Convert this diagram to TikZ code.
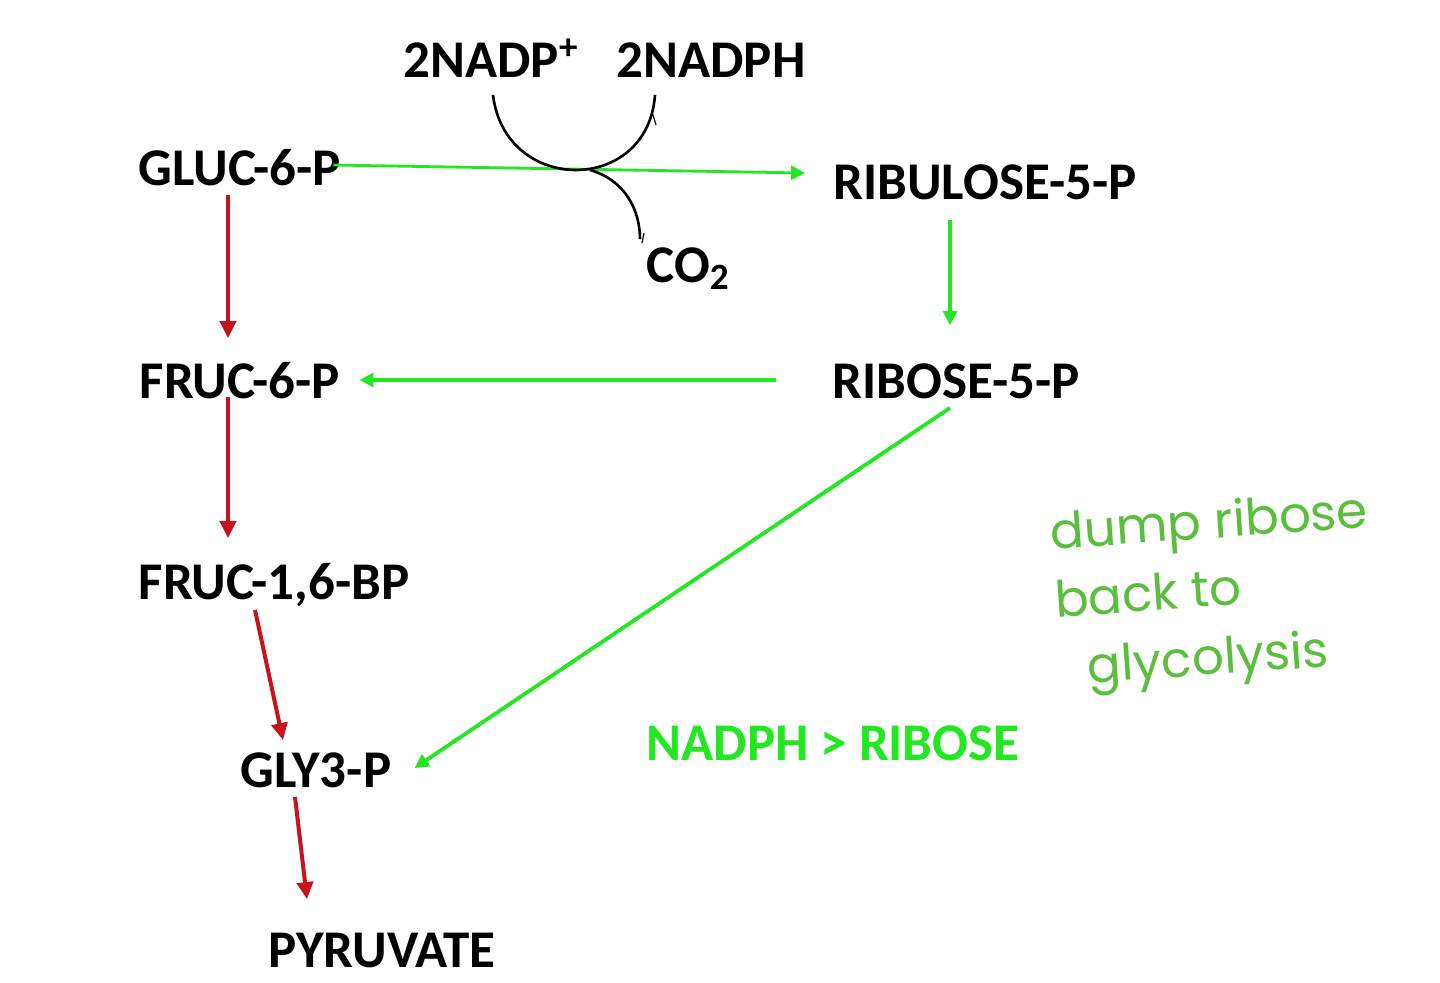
\documentclass[tikz,border=0pt]{standalone}
\usepackage{fontspec}
\setmainfont{Carlito}
\newfontfamily\handfont{Poppins}
\usetikzlibrary{arrows.meta}
\definecolor{glyred}{RGB}{200,18,28}
\definecolor{pppgreen}{RGB}{34,232,34}
\definecolor{notegreen}{RGB}{92,190,62}

\begin{document}
\begin{tikzpicture}[x=0.5pt,y=-0.5pt,
  metab/.style={font=\fontsize{26.5}{30}\selectfont\bfseries,inner sep=0pt,text height=17.5pt,text depth=0pt},
  glyarrow/.style={glyred,line width=2pt,-{Triangle[length=8.5pt,width=8pt]}},
  pparrow/.style={pppgreen,line width=1.6pt,-{Triangle[length=7pt,width=7pt]}},
  cofactor/.style={black,line width=1.3pt}]
  % Page frame
  \fill[white] (0,0) rectangle (1440,982);
  \useasboundingbox (0,0) rectangle (1440,982);

  % Glycolysis side
  \node[metab] (gluc) at (240,168) {GLUC-6-P};
  \node[metab] (fruc6) at (240,381) {FRUC-6-P};
  \node[metab] (fbp) at (274,582) {FRUC-1,6-BP};
  \node[metab] (g3p) at (316,770) {GLY3-P};
  \node[metab] (pyr) at (382,950) {PYRUVATE};

  % Pentose phosphate side
  \node[metab] (ribulose) at (985,182) {RIBULOSE-5-P};
  \node[metab] (ribose) at (956,381) {RIBOSE-5-P};
  \node[metab] (nadp) at (491,60) {2NADP\textsuperscript{+}};
  \node[metab] (nadph) at (711,60) {2NADPH};
  \node[metab] (co2) at (688,265) {CO\textsubscript{2}};

  % Notes
  \node[metab,pppgreen] (ratio) at (833,743) {NADPH > RIBOSE};
  \node[notegreen,font=\handfont\fontsize{25}{34}\selectfont,align=left,rotate=4,inner sep=0pt]
    (note) at (1214,594) {dump ribose\\back to\\\hspace*{14pt}glycolysis};

  % Red glycolysis arrows
  \draw[glyarrow] ([shift={(-12,9)}]gluc.south) -- ([shift={(-12,-25)}]fruc6.north);
  \draw[glyarrow] ([shift={(-12,-2)}]fruc6.south) -- ([shift={(-46,-26)}]fbp.north);
  \draw[glyarrow] ([shift={(-19,10)}]fbp.south) -- ([shift={(-33,-12)}]g3p.north);
  \draw[glyarrow] ([shift={(-21,9)}]g3p.south) -- ([shift={(-75,-33)}]pyr.north);

  % Green pentose phosphate arrows
  \draw[pparrow,line width=1.4pt] ([shift={(-8,-3)}]gluc.east) -- ([shift={(-28,-9)}]ribulose.west);
  \draw[pparrow] ([shift={(-35,20)}]ribulose.south) -- ([shift={(-6,-38)}]ribose.north);
  \draw[pparrow] ([shift={(-56,-1)}]ribose.west) -- ([shift={(19,-1)}]fruc6.east);
  \draw[pparrow,line width=1.9pt] ([shift={(-6,9)}]ribose.south) -- ([shift={(23,-2)}]g3p.east);

  % Cofactor curves
  \coordinate (cross) at (590,170);
  \draw[cofactor] ([shift={(2,17)}]nadp.south) .. controls (505,195) and (648,195) .. ([shift={(-56,17)}]nadph.south);
  \draw[cofactor,line width=0.6pt] ([shift={(-59,34)}]nadph.south) -- ([shift={(-55,47)}]nadph.south);
  \draw[cofactor] (cross) .. controls (625,180) and (640,210) .. ([shift={(-48,-8)}]co2.north);
  \draw[cofactor,line width=0.6pt] ([shift={(-44,-14)}]co2.north) -- ([shift={(-46,-4)}]co2.north);
\end{tikzpicture}
\end{document}
